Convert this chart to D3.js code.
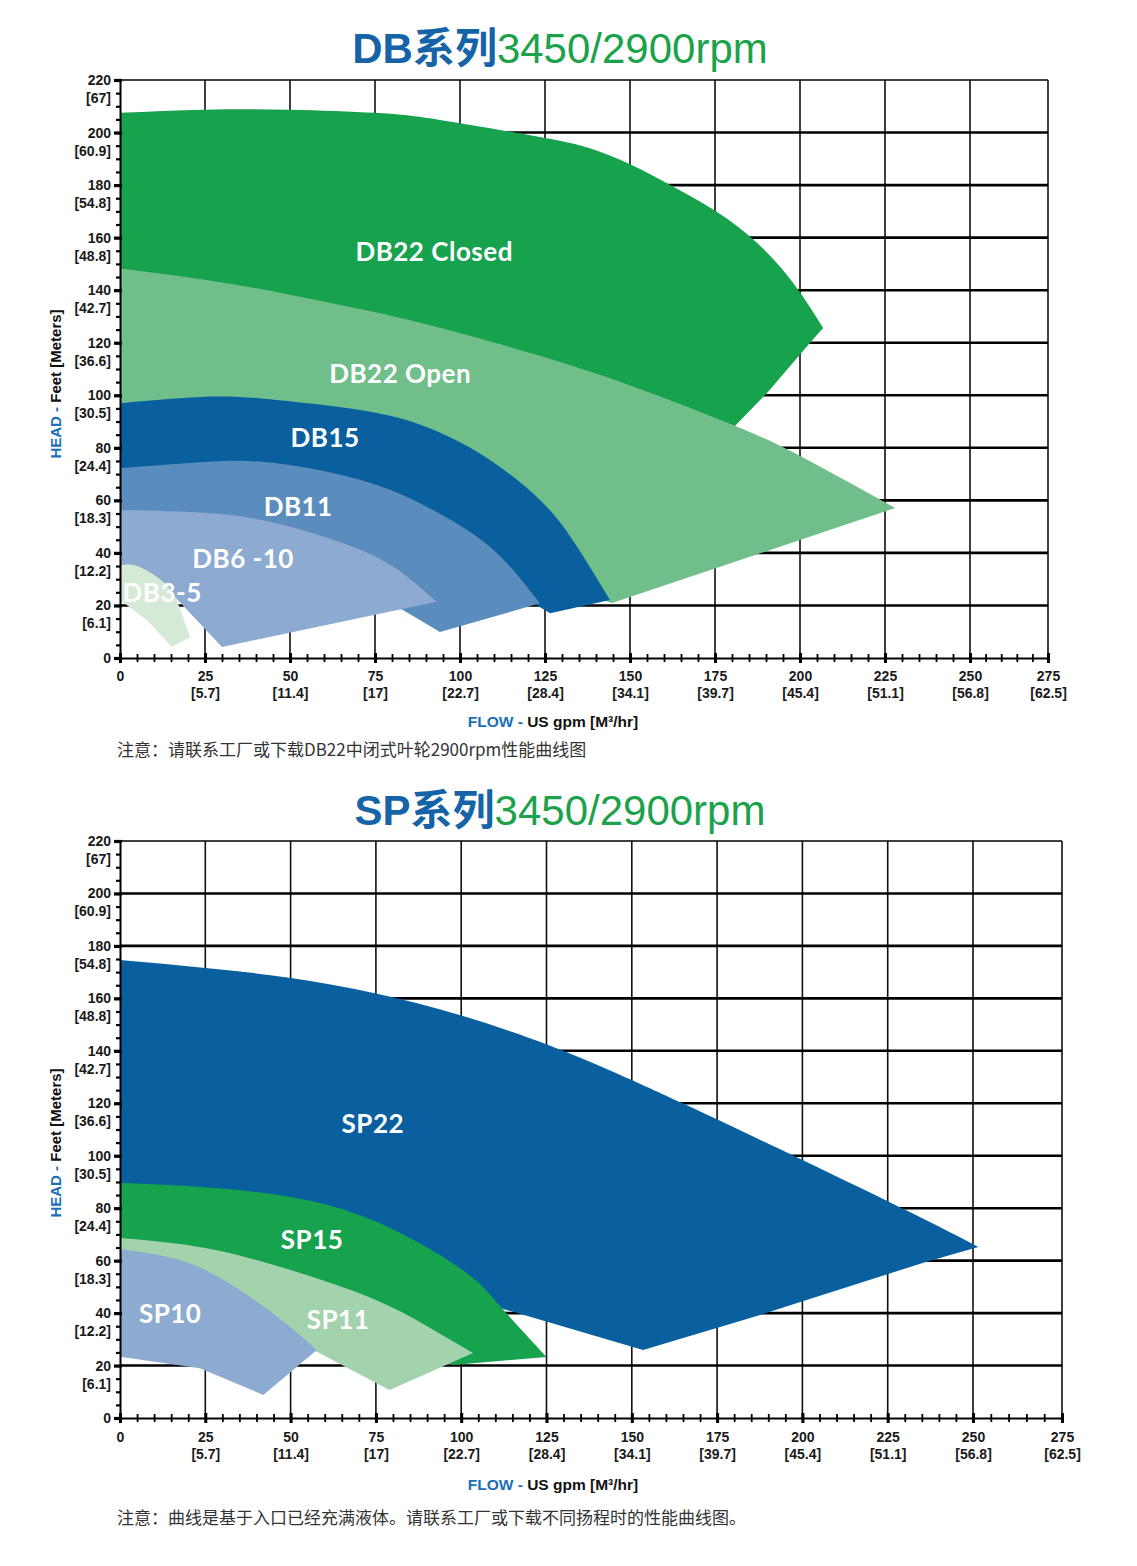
<!DOCTYPE html>
<html lang="zh">
<head>
<meta charset="utf-8">
<script src="https://d3js.org/d3.v7.min.js"></script>
<title>DB / SP 系列 3450/2900rpm</title>
<style>
    body { margin: 0; background: #fff; }
    text { font-family: "Liberation Sans", Arial, "Noto Sans CJK SC", sans-serif; }
    .tick text { font-weight: bold; font-size: 14px; fill: #1a1a1a; }
    .note { font-family: "Noto Sans CJK SC", sans-serif; font-size: 17px; fill: #333; }
    .shape-label { font-family: Lato, "Open Sans", sans-serif; font-weight: bold; font-size: 26px; fill: #fff; letter-spacing: 0.5px; }
</style>
</head>
<body>
<div id="container"></div>
<script>
    // axis ticks (US gpm / feet) with their metric equivalents
    var flowTicks = [0, 25, 50, 75, 100, 125, 150, 175, 200, 225, 250, 275];
    var flowMeters = ["", "[5.7]", "[11.4]", "[17]", "[22.7]", "[28.4]", "[34.1]", "[39.7]", "[45.4]", "[51.1]", "[56.8]", "[62.5]"];
    var headTicks = [0, 20, 40, 60, 80, 100, 120, 140, 160, 180, 200, 220];
    var headMeters = ["", "[6.1]", "[12.2]", "[18.3]", "[24.4]", "[30.5]", "[36.6]", "[42.7]", "[48.8]", "[54.8]", "[60.9]", "[67]"];

    // DB series envelopes: [gpm, feet]; *Top = curved upper edge, *Low = rest of outline
    var db22ClosedTop = [[0,207.5],[25,208.7],[50,208.7],[75,207.5],[94.1,204.8],[123.5,198.3],[138.2,194],[150,187.9],[162.6,179.5],[175.6,169.8],[187.4,158],[198,142.7],[206.8,125.6]];
    var db22ClosedLow = [[202.9,119.9],[190.3,100.9],[180.3,87.5],[150,60],[0,100]];
    var db22OpenTop = [[0,148.3],[25.5,143.9],[50,138.3],[74.4,131.8],[94.1,125.7],[123.5,115],[152.9,102.4],[180.3,88.7],[200,76.9],[228,57.1]];
    var db22OpenLow = [[144.7,20.9],[100,40],[0,60]];
    var db15Top = [[0,97],[26.5,99.5],[46,98.2],[75.5,93.3],[95,85.3],[109.7,74.6],[124.4,59],[134.3,42.6],[144.1,22.1]];
    var db15Low = [[126.5,17],[110,30],[0,60]];
    var db11Top = [[0,72.2],[26.5,74.7],[46,74.1],[70.6,67.8],[90.2,57.6],[104.9,46.2],[114.7,34.8],[123.5,20.8]];
    var db11Low = [[94.1,9.9],[83.2,18.3],[60,30],[0,40]];
    var db610Top = [[0,56.3],[26.5,55.1],[46,51.3],[65.6,43.7],[80.3,34.8],[93.1,21.4]];
    var db610Low = [[30,4.2],[15.6,24],[0,30]];
    var db35Top = [[0,35.4],[5,35],[10.9,30.8],[15.6,24.7],[18.5,15.6],[20.6,8]];
    var db35Low = [[15.3,4.2],[7.9,14.5],[0,22.1]];

    // SP series envelopes
    var sp22Top = [[0,174.6],[25,171.6],[50,167.8],[75,161.9],[100,153.5],[125.5,142.2],[146.6,130.8],[166,119.3],[200,98.4],[231.5,78.5],[251.5,65.2]];
    var sp22Low = [[236.4,59.6],[187.6,39.3],[153.3,25.9],[110.5,42.3],[80,60],[0,60]];
    var sp15Top = [[0,89.7],[25,88],[50,84.3],[75,74.9],[100,56.8],[111.4,42.7],[125,23.3]];
    var sp15Low = [[97.6,20.2],[90,24],[60,30],[0,40]];
    var sp11Top = [[0,68.6],[25,64.8],[50,56.4],[75,45],[92,33.5],[103.5,24.8]];
    var sp11Low = [[79,10.7],[56.6,26],[30,35],[0,40]];
    var sp10Top = [[0,64.4],[13.7,61.5],[25,56.4],[38.1,46.2],[49.8,34.8],[57.7,25.9]];
    var sp10Low = [[42,8.8],[23.4,19],[0,23.4]];

    var dbSeries = [
        {name: "DB22 Closed", top: db22ClosedTop, low: db22ClosedLow, color: "#17a24e", at: [92.4, 154.5]},
        {name: "DB22 Open", top: db22OpenTop, low: db22OpenLow, color: "#70bf8b", at: [82.4, 108.1]},
        {name: "DB15", top: db15Top, low: db15Low, color: "#0a5f9e", at: [60.3, 83.7]},
        {name: "DB11", top: db11Top, low: db11Low, color: "#5a8dbe", at: [52.4, 57.5]},
        {name: "DB6 -10", top: db610Top, low: db610Low, color: "#8dabd0", at: [36.2, 38]},
        {name: "DB3-5", top: db35Top, low: db35Low, color: "#d5e9d7", at: [12.4, 24.7]}
    ];
    var spSeries = [
        {name: "SP22", top: sp22Top, low: sp22Low, color: "#0a5f9e", at: [74.1, 112.1]},
        {name: "SP15", top: sp15Top, low: sp15Low, color: "#17a24e", at: [56.3, 67.9]},
        {name: "SP11", top: sp11Top, low: sp11Low, color: "#a3d3ac", at: [63.9, 37.4]},
        {name: "SP10", top: sp10Top, low: sp10Low, color: "#8dabd0", at: [14.7, 39.7]}
    ];

    var svg = d3.select("#container").append("svg")
        .attr("width", 1137)
        .attr("height", 1566);

    function shapePath(x, y, top, low) {
        var curved = d3.line()
            .x(function(d) { return x(d[0]); })
            .y(function(d) { return y(d[1]); })
            .curve(d3.curveNatural)(top);
        var rest = low.map(function(d) { return "L" + x(d[0]) + "," + y(d[1]); }).join("");
        return curved + rest + "Z";
    }

    function drawChart(cfg) {
        var x = d3.scaleLinear().domain([0, 250, 275]).range(cfg.xRange);
        var y = d3.scaleLinear().domain([0, 220]).range(cfg.yRange);
        var g = svg.append("g");

        // title
        var t = g.append("text")
            .attr("x", 560).attr("y", cfg.titleY)
            .attr("text-anchor", "middle")
            .style("font-size", "42px");
        t.append("tspan").text(cfg.title).attr("fill", "#1664a7").style("font-weight", "bold");
        t.append("tspan").text("3450/2900rpm").attr("fill", "#1ba24b");

        // grid
        g.append("g").selectAll("line")
            .data(flowTicks.filter(function(d) { return d > 0; }))
            .enter().append("line")
            .attr("x1", function(d) { return x(d); }).attr("x2", function(d) { return x(d); })
            .attr("y1", y(0)).attr("y2", y(220))
            .attr("stroke", "#111").attr("stroke-width", 1.6);
        g.append("g").selectAll("line")
            .data(headTicks.filter(function(d) { return d > 0; }))
            .enter().append("line")
            .attr("x1", x(0)).attr("x2", x(275))
            .attr("y1", function(d) { return y(d); }).attr("y2", function(d) { return y(d); })
            .attr("stroke", "#000").attr("stroke-width", function(d) { return d == 220 ? 1.6 : 2.6; });

        // pump envelopes
        g.append("g").selectAll("path")
            .data(cfg.series)
            .enter().append("path")
            .attr("d", function(d) { return shapePath(x, y, d.top, d.low); })
            .attr("fill", function(d) { return d.color; });

        g.append("g").selectAll("text")
            .data(cfg.series)
            .enter().append("text")
            .attr("class", "shape-label")
            .attr("x", function(d) { return x(d.at[0]); })
            .attr("y", function(d) { return y(d.at[1]); })
            .attr("dy", "0.36em")
            .attr("text-anchor", "middle")
            .text(function(d) { return d.name; });

        // x axis
        var xMinor = g.append("g").attr("transform", "translate(0," + y(0) + ")")
            .call(d3.axisBottom(x).tickValues(d3.range(0, 276, 5)).tickSize(4).tickSizeOuter(0).tickFormat(""));
        xMinor.select(".domain").attr("stroke", "#000").attr("stroke-width", 2);
        xMinor.selectAll(".tick line").attr("y1", -4).attr("stroke-width", 1.8);

        var xMajor = g.append("g").attr("transform", "translate(0," + y(0) + ")")
            .call(d3.axisBottom(x).tickValues(flowTicks).tickSize(5).tickSizeOuter(0).tickPadding(cfg.xPad));
        xMajor.select(".domain").remove();
        xMajor.selectAll(".tick line").attr("y1", -5).attr("stroke-width", 3);
        xMajor.selectAll(".tick").append("text")
            .attr("y", cfg.xPad + 22).attr("dy", "0.71em")
            .attr("fill", "#1a1a1a")
            .text(function(d, i) { return flowMeters[i]; });

        // y axis
        var yMinor = g.append("g").attr("transform", "translate(" + x(0) + ",0)")
            .call(d3.axisLeft(y).tickValues(d3.range(0, 221, 5)).tickSize(4).tickSizeOuter(0).tickFormat(""));
        yMinor.select(".domain").attr("stroke", "#000").attr("stroke-width", 2);
        yMinor.selectAll(".tick line").attr("stroke-width", 2.2);

        var yMajor = g.append("g").attr("transform", "translate(" + x(0) + ",0)")
            .call(d3.axisLeft(y).tickValues(headTicks).tickSize(6).tickSizeOuter(0).tickPadding(3));
        yMajor.select(".domain").remove();
        yMajor.selectAll(".tick line").attr("x2", -6).attr("x1", 2).attr("stroke-width", 3.2);
        yMajor.selectAll(".tick").append("text")
            .attr("x", -9).attr("y", 18).attr("dy", "0.32em")
            .attr("fill", "#1a1a1a")
            .text(function(d, i) { return headMeters[i]; });

        // axis titles
        var xt = g.append("text")
            .attr("x", 553).attr("y", cfg.xTitleY)
            .attr("text-anchor", "middle")
            .style("font-size", "15.5px").style("font-weight", "bold");
        xt.append("tspan").text("FLOW - ").attr("fill", "#1a6fb7");
        xt.append("tspan").text("US gpm [M³/hr]").attr("fill", "#111");

        var yt = g.append("text")
            .attr("transform", "translate(61," + cfg.yTitleY + ") rotate(-90)")
            .attr("text-anchor", "middle")
            .style("font-size", "15px").style("font-weight", "bold");
        yt.append("tspan").text("HEAD - ").attr("fill", "#1a6fb7");
        yt.append("tspan").text("Feet [Meters]").attr("fill", "#111");

        g.append("text")
            .attr("class", "note")
            .attr("x", 117).attr("y", cfg.noteY)
            .text(cfg.note);
    }

    drawChart({
        title: "DB系列", titleY: 63, series: dbSeries,
        xRange: [120, 970, 1048], yRange: [658, 80], xPad: 8,
        xTitleY: 727, yTitleY: 384, noteY: 756,
        note: "注意：请联系工厂或下载DB22中闭式叶轮2900rpm性能曲线图"
    });
    drawChart({
        title: "SP系列", titleY: 825, series: spSeries,
        xRange: [120, 973, 1062], yRange: [1418, 841], xPad: 9,
        xTitleY: 1490, yTitleY: 1143, noteY: 1524,
        note: "注意：曲线是基于入口已经充满液体。请联系工厂或下载不同扬程时的性能曲线图。"
    });
</script>
</body>
</html>
